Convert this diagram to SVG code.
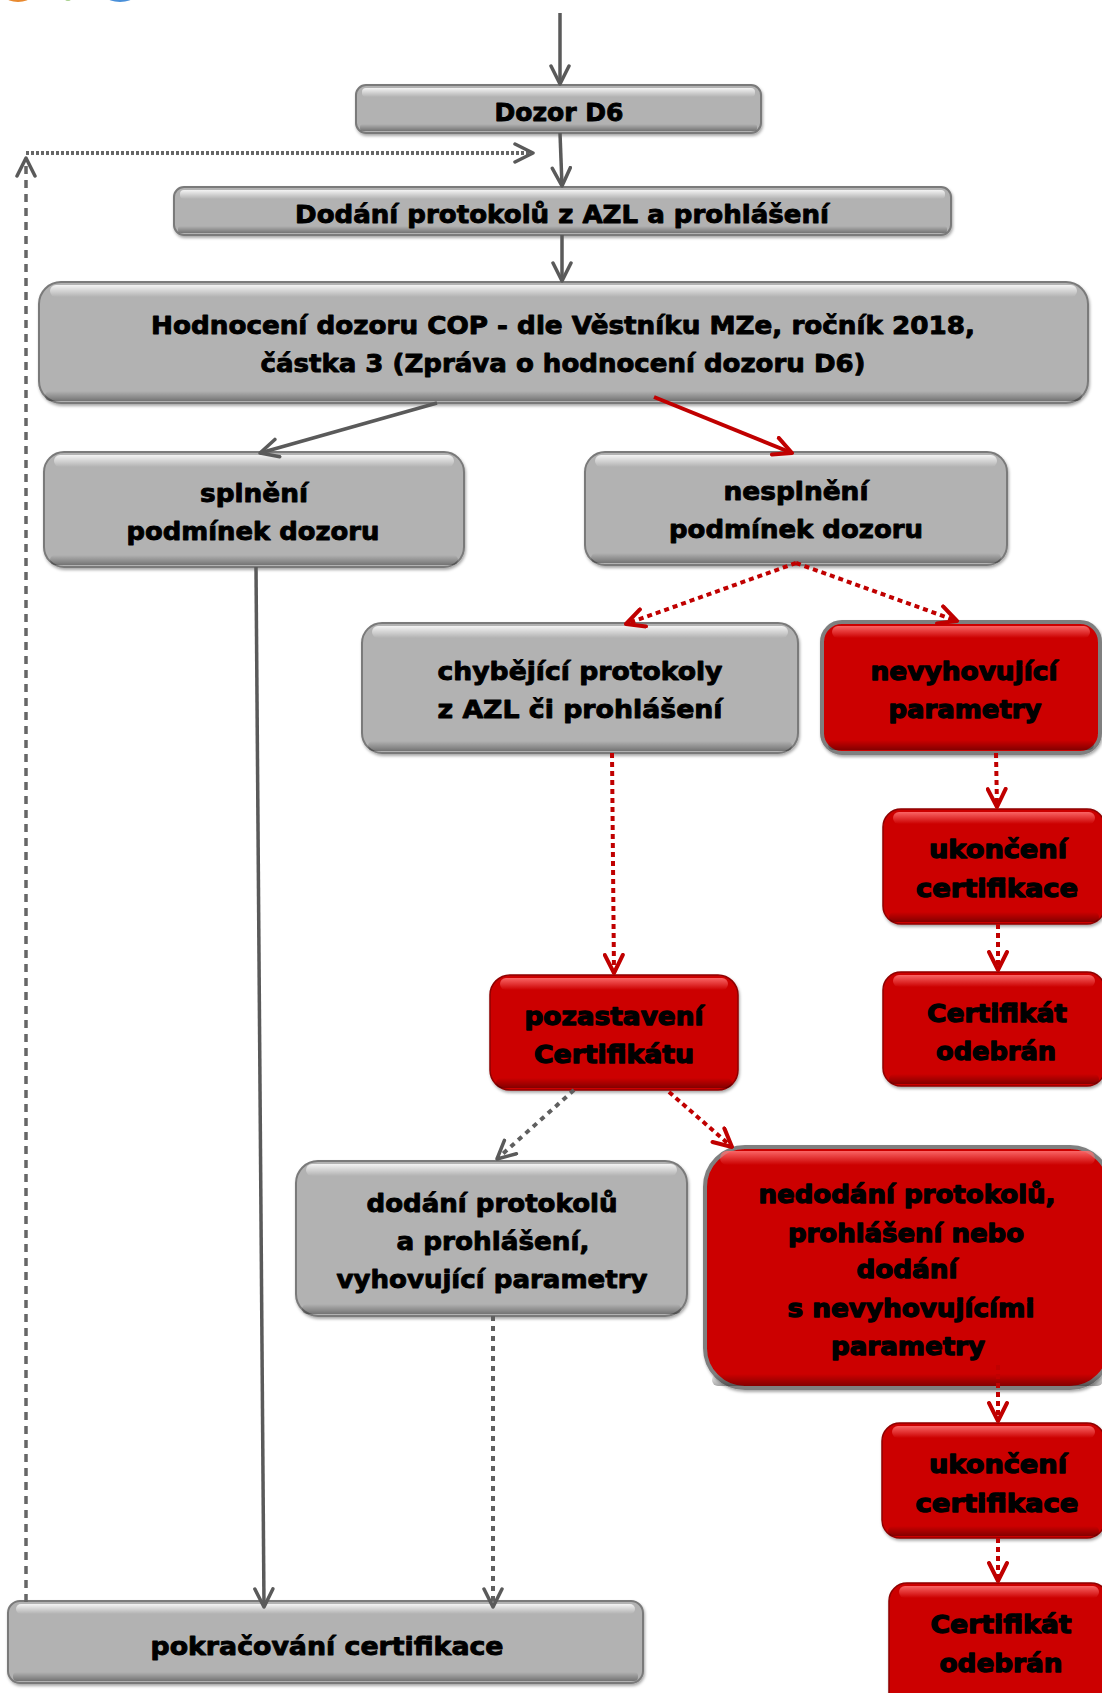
<svg xmlns="http://www.w3.org/2000/svg" width="1102" height="1693" viewBox="0 0 1102 1693">
<defs>
<style>
text{font-family:"DejaVu Sans","Liberation Sans",sans-serif;font-weight:bold;font-size:25px;fill:#000;text-anchor:middle;stroke:#000;stroke-width:0.9;stroke-linejoin:round}
.red text{stroke-width:1.3}
.gbox{fill:#b2b2b2;stroke:#7a7a7a;stroke-width:2;filter:url(#sh)}
.rbox{fill:#cc0000;stroke:#8e0000;stroke-width:1.5;filter:url(#sh)}
.rboxg{fill:#cc0000;stroke:#7f7f7f;stroke-width:4;filter:url(#sh)}
.ghl{fill:url(#ghl)}
.rhl{fill:url(#rhl)}
.bsh{fill:url(#bsh)}
.c{fill:none}
.gs{stroke:#5a5a5a;stroke-width:3.5}
.rs{stroke:#c00000;stroke-width:4}
.rd{stroke:#c00000;stroke-width:4;stroke-dasharray:5 4}
.gd{stroke:#5f5f5f;stroke-width:4;stroke-dasharray:5 5}
.gdl{stroke:#666;stroke-width:3.5;stroke-dasharray:8 6}
.gdd{stroke:#666;stroke-width:4;stroke-dasharray:3 2}
</style>
<filter id="sh" x="-5%" y="-10%" width="110%" height="125%">
<feDropShadow dx="1" dy="2" stdDeviation="1.5" flood-color="#000" flood-opacity="0.35"/>
</filter>
<linearGradient id="ghl" x1="0" y1="0" x2="0" y2="1">
<stop offset="0" stop-color="#fff" stop-opacity="0.85"/>
<stop offset="1" stop-color="#fff" stop-opacity="0"/>
</linearGradient>
<linearGradient id="rhl" x1="0" y1="0" x2="0" y2="1">
<stop offset="0" stop-color="#ff7070" stop-opacity="0.9"/>
<stop offset="1" stop-color="#ff7070" stop-opacity="0"/>
</linearGradient>
<linearGradient id="bsh" x1="0" y1="0" x2="0" y2="1">
<stop offset="0" stop-color="#000" stop-opacity="0"/>
<stop offset="1" stop-color="#000" stop-opacity="0.35"/>
</linearGradient>
<marker id="ag" viewBox="0 0 22 22" refX="20" refY="11" markerWidth="22" markerHeight="22" orient="auto" markerUnits="userSpaceOnUse">
<path d="M2,2 L20,11 L2,20" fill="none" stroke="#5a5a5a" stroke-width="3.5" stroke-linejoin="round" stroke-linecap="round"/>
</marker>
<marker id="ar" viewBox="0 0 22 22" refX="20" refY="11" markerWidth="22" markerHeight="22" orient="auto" markerUnits="userSpaceOnUse">
<path d="M2,2 L20,11 L2,20" fill="none" stroke="#c00000" stroke-width="4" stroke-linejoin="round" stroke-linecap="round"/>
</marker>
</defs>
<rect width="1102" height="1693" fill="#fff"/>
<g id="decor">
<ellipse cx="18" cy="-3" rx="12" ry="5" fill="#e8892f"/>
<ellipse cx="68" cy="-1" rx="3" ry="2" fill="#a8d08d"/>
<ellipse cx="120" cy="-3" rx="13" ry="5" fill="#4a90d9"/>
</g>
<g id="n-dozor">
<rect class="gbox" x="356" y="85" width="405" height="48" rx="10"/>
<rect class="ghl" x="362" y="88" width="393" height="9" rx="4"/>
<rect class="bsh" x="360" y="124" width="397" height="7" rx="3"/>
<text x="559" y="121" textLength="129" lengthAdjust="spacingAndGlyphs">Dozor D6</text>
</g>
<g id="n-dodani">
<rect class="gbox" x="174" y="187" width="777" height="48" rx="10"/>
<rect class="ghl" x="180" y="190" width="765" height="9" rx="4"/>
<rect class="bsh" x="178" y="226" width="769" height="7" rx="3"/>
<text x="562" y="223" textLength="534" lengthAdjust="spacingAndGlyphs">Dodání protokolů z AZL a prohlášení</text>
</g>
<g id="n-hodnoceni">
<rect class="gbox" x="39" y="282" width="1049" height="121" rx="22"/>
<rect class="ghl" x="50" y="285" width="1027" height="12" rx="6"/>
<rect class="bsh" x="45" y="391" width="1037" height="10" rx="5"/>
<text x="563" y="334" textLength="824" lengthAdjust="spacingAndGlyphs">Hodnocení dozoru COP - dle Věstníku MZe, ročník 2018,</text>
<text x="563" y="372" textLength="605" lengthAdjust="spacingAndGlyphs">částka 3 (Zpráva o hodnocení dozoru D6)</text>
</g>
<g id="n-splneni">
<rect class="gbox" x="44" y="452" width="420" height="115" rx="20"/>
<rect class="ghl" x="54" y="455" width="400" height="12" rx="6"/>
<rect class="bsh" x="50" y="555" width="408" height="10" rx="5"/>
<text x="254" y="502" textLength="108" lengthAdjust="spacingAndGlyphs">splnění</text>
<text x="253" y="540" textLength="253" lengthAdjust="spacingAndGlyphs">podmínek dozoru</text>
</g>
<g id="n-nesplneni">
<rect class="gbox" x="585" y="452" width="422" height="113" rx="20"/>
<rect class="ghl" x="595" y="455" width="402" height="12" rx="6"/>
<rect class="bsh" x="591" y="553" width="410" height="10" rx="5"/>
<text x="796" y="500" textLength="145" lengthAdjust="spacingAndGlyphs">nesplnění</text>
<text x="796" y="538" textLength="254" lengthAdjust="spacingAndGlyphs">podmínek dozoru</text>
</g>
<g id="n-chybejici">
<rect class="gbox" x="362" y="623" width="436" height="130" rx="20"/>
<rect class="ghl" x="372" y="626" width="416" height="12" rx="6"/>
<rect class="bsh" x="368" y="741" width="424" height="10" rx="5"/>
<text x="580" y="680" textLength="285" lengthAdjust="spacingAndGlyphs">chybějící protokoly</text>
<text x="580" y="718" textLength="285" lengthAdjust="spacingAndGlyphs">z AZL či prohlášení</text>
</g>
<g id="n-nevyhovujici" class="red">
<rect class="rboxg" x="822" y="622" width="278" height="131" rx="20"/>
<rect class="rhl" x="832" y="626" width="258" height="12" rx="6"/>
<rect class="bsh" x="828" y="740" width="266" height="10" rx="5"/>
<text x="964" y="680" textLength="187" lengthAdjust="spacingAndGlyphs">nevyhovující</text>
<text x="965" y="718" textLength="153" lengthAdjust="spacingAndGlyphs">parametry</text>
</g>
<g id="n-ukonceni1" class="red">
<rect class="rbox" x="883" y="809" width="222" height="115" rx="18"/>
<rect class="rhl" x="893" y="812" width="202" height="12" rx="6"/>
<rect class="bsh" x="889" y="912" width="210" height="10" rx="5"/>
<text x="998" y="858" textLength="138" lengthAdjust="spacingAndGlyphs">ukončení</text>
<text x="997" y="897" textLength="162" lengthAdjust="spacingAndGlyphs">certifikace</text>
</g>
<g id="n-odebran1" class="red">
<rect class="rbox" x="883" y="972" width="222" height="114" rx="18"/>
<rect class="rhl" x="893" y="975" width="202" height="12" rx="6"/>
<rect class="bsh" x="889" y="1074" width="210" height="10" rx="5"/>
<text x="997" y="1022" textLength="140" lengthAdjust="spacingAndGlyphs">Certifikát</text>
<text x="996" y="1060" textLength="120" lengthAdjust="spacingAndGlyphs">odebrán</text>
</g>
<g id="n-pozastaveni" class="red">
<rect class="rbox" x="490" y="975" width="248" height="115" rx="20"/>
<rect class="rhl" x="500" y="978" width="228" height="12" rx="6"/>
<rect class="bsh" x="496" y="1078" width="236" height="10" rx="5"/>
<text x="614" y="1025" textLength="179" lengthAdjust="spacingAndGlyphs">pozastavení</text>
<text x="614" y="1063" textLength="160" lengthAdjust="spacingAndGlyphs">Certifikátu</text>
</g>
<g id="n-dodani2">
<rect class="gbox" x="296" y="1161" width="391" height="155" rx="22"/>
<rect class="ghl" x="306" y="1164" width="371" height="12" rx="6"/>
<rect class="bsh" x="302" y="1304" width="379" height="10" rx="5"/>
<text x="492" y="1212" textLength="251" lengthAdjust="spacingAndGlyphs">dodání protokolů</text>
<text x="493" y="1250" textLength="193" lengthAdjust="spacingAndGlyphs">a prohlášení,</text>
<text x="492" y="1288" textLength="311" lengthAdjust="spacingAndGlyphs">vyhovující parametry</text>
</g>
<g id="n-nedodani" class="red">
<rect class="rboxg" x="705" y="1147" width="405" height="241" rx="40"/>
<rect class="rhl" x="720" y="1151" width="375" height="14" rx="7"/>
<rect class="bsh" x="712" y="1374" width="391" height="12" rx="6"/>
<text x="907" y="1203" textLength="297" lengthAdjust="spacingAndGlyphs">nedodání protokolů,</text>
<text x="906" y="1242" textLength="236" lengthAdjust="spacingAndGlyphs">prohlášení nebo</text>
<text x="907" y="1278" textLength="101" lengthAdjust="spacingAndGlyphs">dodání</text>
<text x="911" y="1317" textLength="247" lengthAdjust="spacingAndGlyphs">s nevyhovujícími</text>
<text x="908" y="1355" textLength="154" lengthAdjust="spacingAndGlyphs">parametry</text>
</g>
<g id="n-ukonceni2" class="red">
<rect class="rbox" x="882" y="1423" width="223" height="115" rx="18"/>
<rect class="rhl" x="892" y="1426" width="203" height="12" rx="6"/>
<rect class="bsh" x="888" y="1526" width="211" height="10" rx="5"/>
<text x="998" y="1473" textLength="138" lengthAdjust="spacingAndGlyphs">ukončení</text>
<text x="997" y="1512" textLength="163" lengthAdjust="spacingAndGlyphs">certifikace</text>
</g>
<g id="n-odebran2" class="red">
<rect class="rbox" x="889" y="1583" width="220" height="130" rx="18"/>
<rect class="rhl" x="899" y="1586" width="200" height="12" rx="6"/>
<text x="1001" y="1633" textLength="141" lengthAdjust="spacingAndGlyphs">Certifikát</text>
<text x="1001" y="1672" textLength="123" lengthAdjust="spacingAndGlyphs">odebrán</text>
</g>
<g id="n-pokracovani">
<rect class="gbox" x="8" y="1601" width="635" height="82" rx="12"/>
<rect class="ghl" x="16" y="1604" width="619" height="10" rx="5"/>
<rect class="bsh" x="13" y="1672" width="625" height="9" rx="4"/>
<text x="327" y="1655" textLength="353" lengthAdjust="spacingAndGlyphs">pokračování certifikace</text>
</g>
<g id="connectors">
<path class="c gs" d="M560,13 V84" marker-end="url(#ag)"/>
<path class="c gs" d="M560,133 L562,186" marker-end="url(#ag)"/>
<path class="c gs" d="M562,235 V281" marker-end="url(#ag)"/>
<path class="c gs" d="M437,403 L260,453" marker-end="url(#ag)"/>
<path class="c rs" d="M654,397 L792,453" marker-end="url(#ar)"/>
<path class="c gs" d="M256,567 L264,1607" marker-end="url(#ag)"/>
<path class="c gdl" d="M26,1602 V158" marker-end="url(#ag)"/>
<path class="c gdd" d="M26,153 H533" marker-end="url(#ag)"/>
<path class="c rd" d="M796,563 L626,624" marker-end="url(#ar)"/>
<path class="c rd" d="M796,563 L957,621" marker-end="url(#ar)"/>
<path class="c rd" d="M612,753 L614,973" marker-end="url(#ar)"/>
<path class="c rd" d="M996,753 L997,807" marker-end="url(#ar)"/>
<path class="c rd" d="M998,924 V970" marker-end="url(#ar)"/>
<path class="c gd" d="M574,1090 L497,1159" marker-end="url(#ag)"/>
<path class="c rd" d="M669,1092 L732,1147" marker-end="url(#ar)"/>
<path class="c gd" d="M493,1316 V1607" marker-end="url(#ag)"/>
<path class="c rd" d="M998,1365 V1421" marker-end="url(#ar)"/>
<path class="c rd" d="M998,1538 V1581" marker-end="url(#ar)"/>
</g>
</svg>
